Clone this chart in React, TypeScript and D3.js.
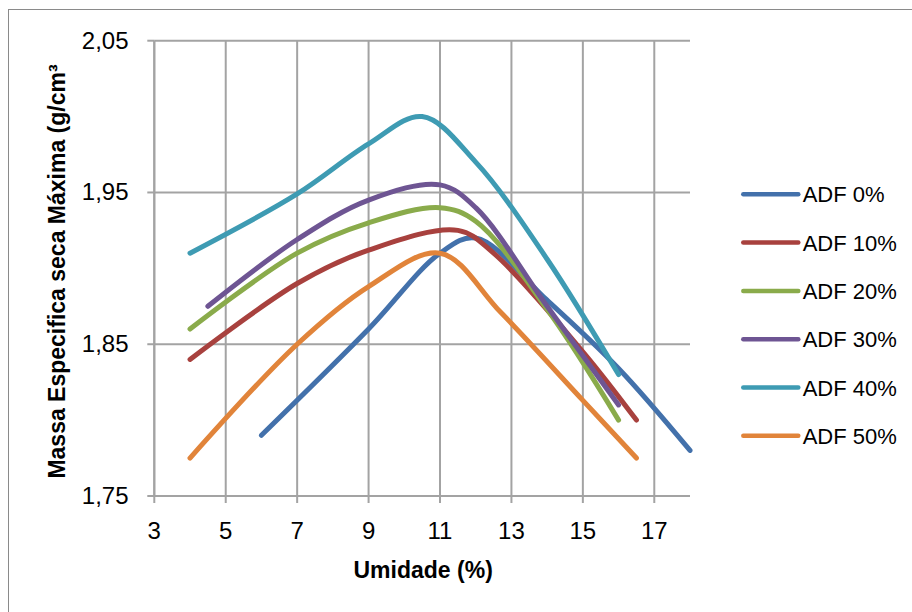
import React from 'react';
import * as d3 from 'd3';

// Compaction curves: moisture content (%) vs. maximum dry density (g/cm³)
const seriesNames = ['ADF 0%', 'ADF 10%', 'ADF 20%', 'ADF 30%', 'ADF 40%', 'ADF 50%'];
const seriesColors = ['#4371ab', '#a8413e', '#8aab4b', '#6e5593', '#3e9bb3', '#e1843a'];

const adf0: [number, number][] = [[6, 1.79], [9, 1.86], [11, 1.91], [12, 1.92], [14, 1.879], [16, 1.834], [18, 1.78]];
const adf10: [number, number][] = [[4, 1.84], [7, 1.89], [9, 1.912], [11.5, 1.925], [12.5, 1.91], [15, 1.845], [16.5, 1.8]];
const adf20: [number, number][] = [[4, 1.86], [7, 1.91], [9, 1.93], [11, 1.94], [12, 1.931], [14, 1.873], [16, 1.8]];
const adf30: [number, number][] = [[4.5, 1.875], [7, 1.919], [9, 1.945], [11, 1.955], [12, 1.94], [14, 1.875], [16, 1.81]];
const adf40: [number, number][] = [[4, 1.91], [7, 1.949], [9, 1.982], [10.5, 2.0], [12, 1.97], [14, 1.906], [16, 1.83]];
const adf50: [number, number][] = [[4, 1.775], [7, 1.85], [9, 1.888], [11, 1.91], [12.7, 1.871], [15, 1.813], [16.5, 1.775]];
const seriesData = [adf0, adf10, adf20, adf30, adf40, adf50];

const xTicks = [3, 5, 7, 9, 11, 13, 15, 17];
const yTicks = [1.75, 1.85, 1.95, 2.05];
const xDomain: [number, number] = [3, 18];
const yDomain: [number, number] = [1.75, 2.05];

const xTitle = 'Umidade (%)';
const yTitle = 'Massa Especifica seca Máxima (g/cm³';

const W = 912;
const H = 612;
const plot = { left: 154.3, right: 690, top: 40.7, bottom: 496 };
const gridColor = '#a3a3a3';
const font = '"Liberation Sans", Arial, sans-serif';

export default function App() {
  const x = d3.scaleLinear().domain(xDomain).range([plot.left, plot.right]);
  const y = d3.scaleLinear().domain(yDomain).range([plot.bottom, plot.top]);
  const line = d3
    .line<[number, number]>()
    .x((d) => x(d[0]))
    .y((d) => y(d[1]))
    .curve(d3.curveCatmullRom.alpha(0.5));
  const fmt = (v: number) => d3.format('.2f')(v).replace('.', ',');

  const legendX1 = 743.3;
  const legendX2 = 798.3;
  const legendTop = 194.3;
  const legendStep = 48.3;

  return (
    <svg
      width={W}
      height={H}
      style={{ position: 'absolute', left: 0, top: 0, background: '#fff' }}
      fontFamily={font}
    >
      <rect x={0} y={0} width={W} height={H} fill="#fff" />
      {/* chart area border */}
      <rect x={8.5} y={9.5} width={W + 10} height={H + 10} fill="none" stroke="#8a8a8a" strokeWidth={1} />

      {/* gridlines */}
      {xTicks.map((t) => (
        <line key={'gx' + t} x1={x(t)} x2={x(t)} y1={plot.top} y2={plot.bottom} stroke={gridColor} strokeWidth={2} />
      ))}
      {yTicks.map((t) => (
        <line key={'gy' + t} x1={plot.left} x2={plot.right} y1={y(t)} y2={y(t)} stroke={gridColor} strokeWidth={2} />
      ))}

      {/* axes */}
      <line x1={plot.left} x2={plot.left} y1={plot.top} y2={plot.bottom} stroke={gridColor} strokeWidth={2} />
      <line x1={plot.left} x2={plot.right} y1={plot.bottom} y2={plot.bottom} stroke={gridColor} strokeWidth={2} />
      {yTicks.map((t) => (
        <g key={'ty' + t}>
          <line x1={plot.left - 7} x2={plot.left} y1={y(t)} y2={y(t)} stroke={gridColor} strokeWidth={2} />
          <text x={128.5} y={y(t) + 8} textAnchor="end" fontSize={24} fill="#000">
            {fmt(t)}
          </text>
        </g>
      ))}
      {xTicks.map((t) => (
        <g key={'tx' + t}>
          <line x1={x(t)} x2={x(t)} y1={plot.bottom} y2={plot.bottom + 7} stroke={gridColor} strokeWidth={2} />
          <text x={x(t)} y={539} textAnchor="middle" fontSize={24} fill="#000">
            {t}
          </text>
        </g>
      ))}

      {/* axis titles */}
      <text x={(plot.left + plot.right) / 2 + 1} y={578} textAnchor="middle" fontSize={23} fontWeight="bold" fill="#000">
        {xTitle}
      </text>
      <text
        transform={`translate(65, 271.5) rotate(-90)`}
        textAnchor="middle"
        fontSize={23}
        fontWeight="bold"
        fill="#000"
      >
        {yTitle}
      </text>

      {/* series */}
      {seriesData.map((d, i) => (
        <path
          key={seriesNames[i]}
          d={line(d) || ''}
          fill="none"
          stroke={seriesColors[i]}
          strokeWidth={5}
          strokeLinecap="round"
          strokeLinejoin="round"
        />
      ))}

      {/* legend */}
      {seriesNames.map((name, i) => {
        const cy = legendTop + i * legendStep;
        return (
          <g key={'lg' + name}>
            <line x1={legendX1} x2={legendX2} y1={cy} y2={cy} stroke={seriesColors[i]} strokeWidth={4.5} strokeLinecap="round" />
            <text x={802.7} y={cy + 8} fontSize={22} fill="#000">
              {name}
            </text>
          </g>
        );
      })}
    </svg>
  );
}
